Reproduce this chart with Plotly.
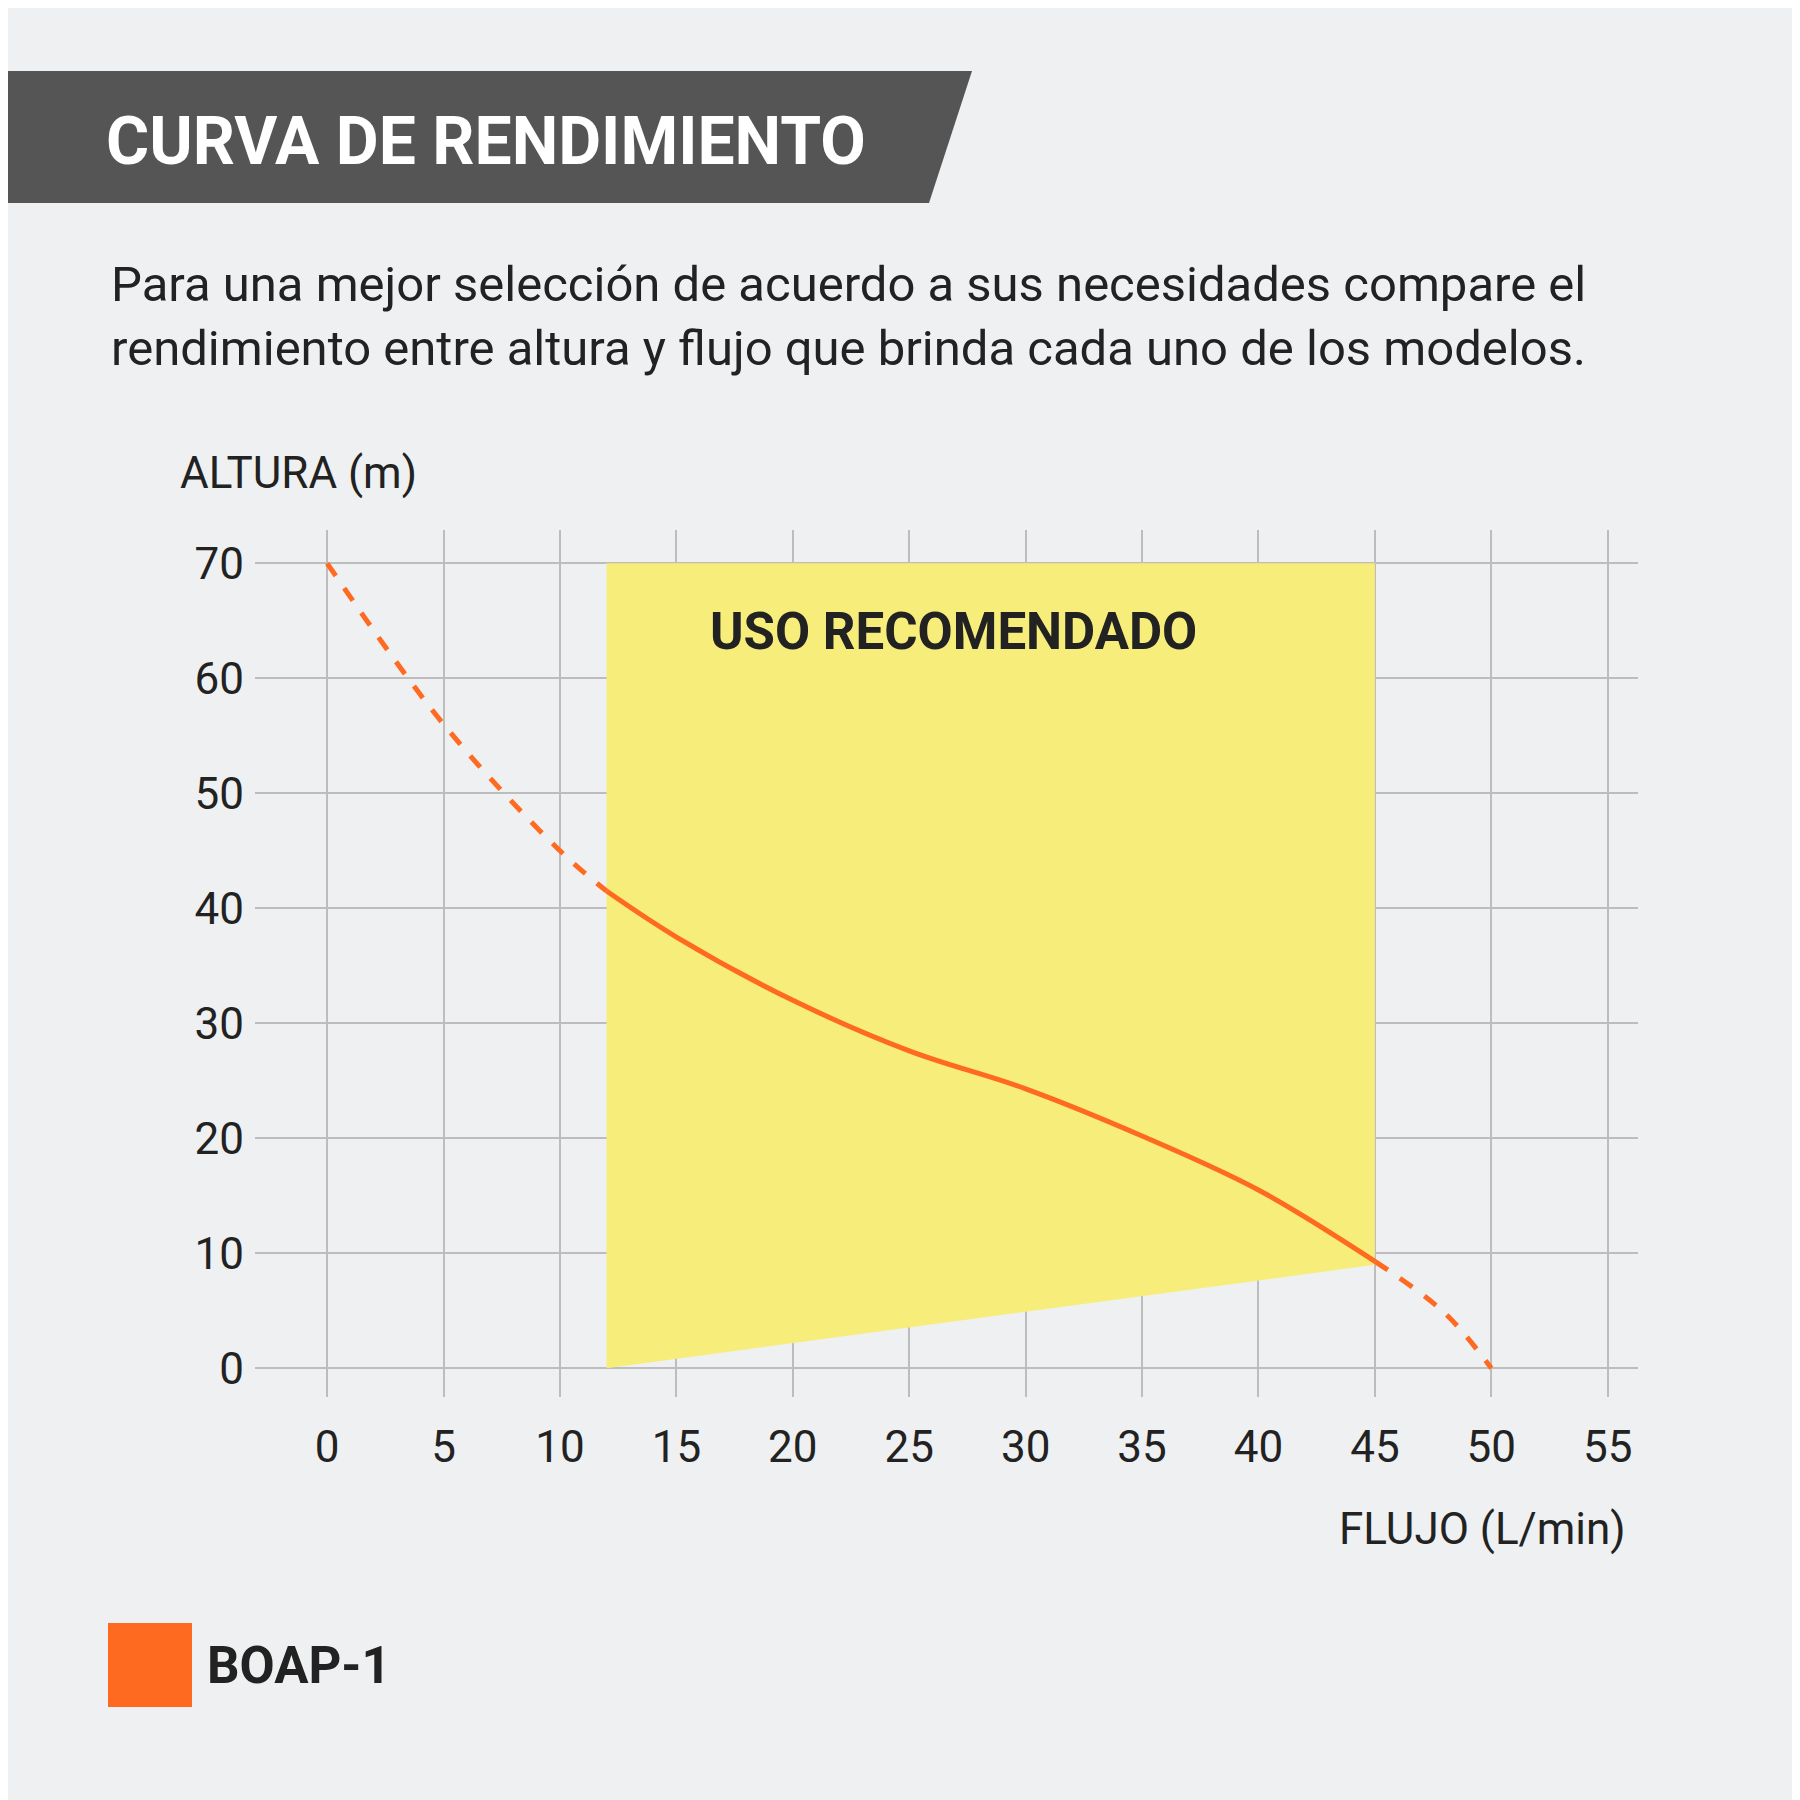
import plotly.graph_objects as go

flow = [0, 5, 10, 12, 15, 20, 25, 30, 35, 40, 45, 48, 50]
head = [70, 56, 45, 41.5, 37.5, 32, 27.6, 24.3, 20.2, 15.5, 9.3, 4.8, 0]
zone_x = [12, 45, 45, 12, 12]
zone_y = [0, 9, 70, 70, 0]
xticks = [0, 5, 10, 15, 20, 25, 30, 35, 40, 45, 50, 55]
yticks = [0, 10, 20, 30, 40, 50, 60, 70]

F = "Liberation Sans Narrow, Roboto, sans-serif"
W = 1800
def px(x): return x / W
def py(y): return 1 - y / W

fig = go.Figure()
fig.add_trace(go.Scatter(x=zone_x, y=zone_y, fill="toself", fillcolor="#f7ed7b",
                         line=dict(width=0), mode="lines", hoverinfo="skip"))
fig.add_trace(go.Scatter(x=flow[:4], y=head[:4], mode="lines",
                         line=dict(color="#ff6a21", width=5, dash="dash", shape="spline")))
fig.add_trace(go.Scatter(x=flow[3:11], y=head[3:11], mode="lines",
                         line=dict(color="#ff6a21", width=5, shape="spline")))
fig.add_trace(go.Scatter(x=flow[10:], y=head[10:], mode="lines",
                         line=dict(color="#ff6a21", width=5, dash="dash", shape="spline")))

ax_font = dict(family=F, size=44, color="#222")
fig.update_layout(
    width=W, height=W, showlegend=False,
    paper_bgcolor="#eff0f1", plot_bgcolor="#eff0f1",
    margin=dict(l=0, r=0, t=0, b=0),
    xaxis=dict(domain=[px(247), px(1630)], range=[-3.1, 56.3], tickvals=xticks,
               showgrid=True, gridcolor="#bdbdbd", gridwidth=1.5, zeroline=False,
               showline=False, tickfont=ax_font, ticks="", ticklabelstandoff=20),
    yaxis=dict(domain=[py(1389), py(522)], range=[-2.5, 72.9], tickvals=yticks,
               showgrid=True, gridcolor="#bdbdbd", gridwidth=1.5, zeroline=False,
               showline=False, tickfont=ax_font, ticks="", ticklabelstandoff=10),
    shapes=[
        dict(type="path", xref="paper", yref="paper", line=dict(width=0), fillcolor="#555555",
             path=f"M 0 {py(63)} L {px(964)} {py(63)} L {px(921)} {py(195)} L 0 {py(195)} Z"),
        dict(type="rect", xref="paper", yref="paper", line=dict(width=0), fillcolor="#ff6a21",
             x0=px(100), x1=px(184), y0=py(1699), y1=py(1615)),
    ],
    annotations=[
        dict(text="<b>CURVA DE RENDIMIENTO</b>", xref="paper", yref="paper", x=px(96), y=py(134),
             xanchor="left", yanchor="middle", showarrow=False,
             font=dict(family=F, size=66, color="white")),
        dict(text="Para una mejor selección de acuerdo a sus necesidades compare el<br>"
                  "rendimiento entre altura y flujo que brinda cada uno de los modelos.",
             xref="paper", yref="paper", x=px(101), y=py(308), xanchor="left", yanchor="middle",
             align="left", showarrow=False, font=dict(family=F, size=49, color="#222")),
        dict(text="ALTURA (m)", xref="paper", yref="paper", x=px(170), y=py(465),
             xanchor="left", yanchor="middle", showarrow=False, font=dict(family=F, size=44, color="#222")),
        dict(text="FLUJO (L/min)", xref="paper", yref="paper", x=px(1620), y=py(1521),
             xanchor="right", yanchor="middle", showarrow=False, font=dict(family=F, size=44, color="#222")),
        dict(text="<b>BOAP-1</b>", xref="paper", yref="paper", x=px(197), y=py(1657),
             xanchor="left", yanchor="middle", showarrow=False, font=dict(family=F, size=51, color="#222")),
        dict(text="<b>USO RECOMENDADO</b>", x=26.9, y=64.1, xanchor="center", yanchor="middle",
             showarrow=False, font=dict(family=F, size=51, color="#222")),
    ],
)
fig.write_html("out.html")
